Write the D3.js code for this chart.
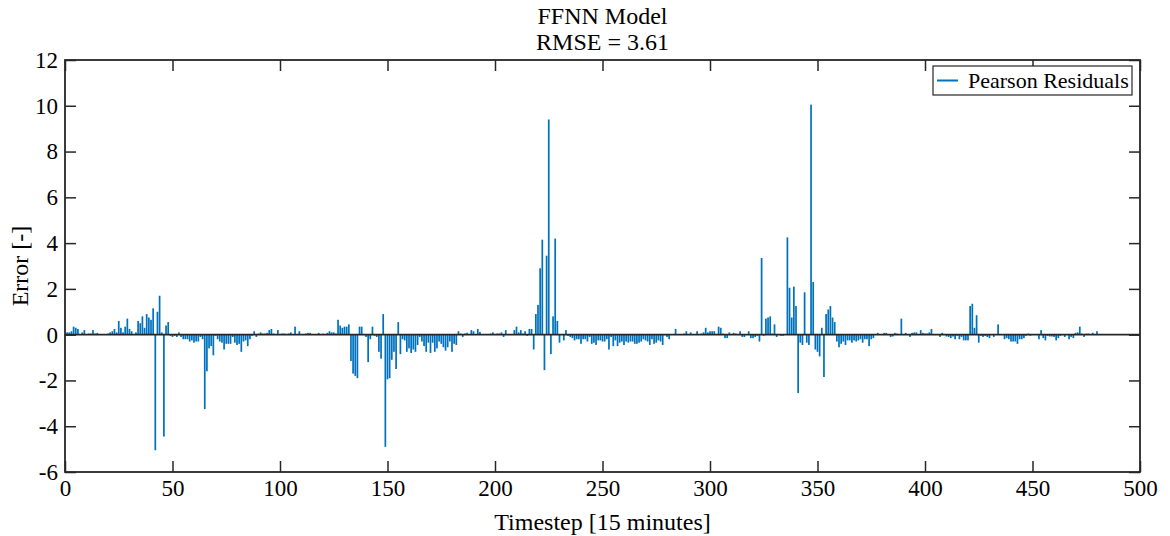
<!DOCTYPE html>
<html>
<head>
<meta charset="utf-8">
<script src="https://cdn.jsdelivr.net/npm/d3@7"></script>
<style>
  html, body { margin: 0; padding: 0; background: #fff; }
  svg { display: block; }
  svg text { font-family: "Liberation Serif", "LiberationSerif", "Times New Roman", Times, "Nimbus Roman", "DejaVu Serif", serif !important; fill: #000; }
</style>
</head>
<body>
<svg id="chart" width="1170" height="536"></svg>
<script>
// ---- Data ----
const titleLines = ["FFNN Model", "RMSE = 3.61"];
const xLabel = "Timestep [15 minutes]";
const yLabel = "Error [-]";
const legendLabel = "Pearson Residuals";
const xTicks = [0, 50, 100, 150, 200, 250, 300, 350, 400, 450, 500];
const yTicks = [-6, -4, -2, 0, 2, 4, 6, 8, 10, 12];

// residuals for timesteps 1..480, split in blocks of 60
const residuals001 = [
  0.1, 0.1, 0.15, 0.35, 0.3, 0.25, 0.02, 0.1, 0.2, 0.03,
  0.05, 0.05, 0.2, 0.05, 0.08, 0.02, 0.03, 0.03, 0.02, 0.05,
  0.1, 0.15, 0.25, 0.1, 0.6, 0.3, 0.1, 0.35, 0.7, 0.25,
  0.15, 0.02, 0.1, 0.6, 0.5, 0.8, 0.3, 0.9, 0.75, 0.65,
  1.15, -5.05, 1.0, 1.7, 0.1, -4.45, 0.4, 0.55, -0.05, -0.1,
  -0.05, -0.1, 0.1, -0.1, -0.2, -0.2, -0.2, -0.3, -0.25, -0.35];
const residuals061 = [
  -0.3, -0.3, -0.1, -0.2, -3.25, -1.6, -0.6, -0.5, -0.9, -0.05,
  -0.2, -0.3, -0.35, -0.65, -0.4, -0.4, -0.4, -0.1, -0.35, -0.45,
  -0.4, -0.75, -0.3, -0.25, -0.5, -0.2, -0.05, 0.15, -0.1, 0.05,
  0.1, 0.05, 0.05, 0.08, 0.2, 0.25, 0.05, 0.02, 0.2, 0.02,
  0.05, 0.05, 0.03, 0.05, 0.1, 0.02, 0.35, 0.02, 0.15, 0.02,
  0.02, 0.05, 0.08, 0.08, 0.02, 0.02, 0.02, 0.08, 0.02, 0.05];
const residuals121 = [
  0.02, 0.08, 0.15, 0.1, 0.1, 0.05, 0.65, 0.4, 0.3, 0.35,
  0.35, 0.45, -1.15, -1.7, -1.8, -1.9, 0.35, 0.35, -0.02, -0.1,
  -1.2, -0.2, 0.35, -0.05, -0.1, -0.75, -1.05, 0.9, -4.9, -1.95,
  -1.9, -1.1, -0.75, -1.5, 0.55, -0.85, -0.2, -0.25, -0.75, -0.6,
  -0.8, -0.65, -0.75, -0.45, -0.1, -0.3, -0.5, -0.75, -0.35, -0.8,
  -0.35, -0.75, -0.6, -0.3, -0.4, -0.55, -0.7, -0.55, -0.3, -0.75];
const residuals181 = [
  -0.4, -0.45, 0.15, 0.05, -0.1, 0.05, 0.08, 0.02, 0.2, 0.15,
  0.02, 0.25, 0.12, 0.02, 0.02, 0.02, 0.02, 0.05, 0.1, 0.02,
  0.05, 0.05, 0.1, -0.1, 0.2, 0.02, 0.02, 0.02, 0.2, 0.35,
  0.1, 0.2, 0.05, 0.15, -0.05, 0.25, 0.25, -0.65, 0.9, 1.3,
  2.9, 4.15, -1.55, 3.45, 9.4, -0.85, 0.8, 4.2, 0.6, -0.35,
  0.02, -0.25, 0.2, -0.05, -0.1, -0.15, -0.25, -0.2, -0.2, -0.4];
const residuals241 = [
  -0.2, -0.2, -0.3, -0.1, -0.4, -0.35, -0.45, -0.25, -0.25, -0.3,
  -0.3, -0.2, -0.65, -0.1, -0.5, -0.25, -0.5, -0.35, -0.3, -0.45,
  -0.3, -0.35, -0.3, -0.3, -0.4, -0.4, -0.35, -0.3, -0.2, -0.25,
  -0.3, -0.45, -0.2, -0.4, -0.35, -0.25, -0.3, -0.45, -0.02, -0.1,
  -0.2, 0.02, 0.02, 0.25, 0.02, 0.02, 0.02, 0.05, 0.15, 0.02,
  0.1, 0.02, 0.02, 0.15, 0.02, 0.05, 0.1, 0.3, 0.1, 0.15];
const residuals301 = [
  0.15, 0.15, 0.02, 0.35, 0.3, 0.05, -0.15, -0.15, 0.1, 0.02,
  0.08, 0.05, 0.02, 0.15, -0.1, -0.1, 0.02, 0.15, -0.15, -0.15,
  -0.1, -0.05, -0.3, 3.35, -0.05, 0.7, 0.75, 0.8, 0.05, 0.45,
  -0.1, 0.02, -0.05, -0.05, 0.02, 4.25, 2.05, 0.75, 2.1, 1.25,
  -2.55, -0.35, -0.45, 1.85, -0.35, -0.45, 10.05, 2.3, -0.65, -0.75,
  -0.95, 0.3, -1.85, 0.9, 1.1, 1.25, 0.75, 0.55, -0.3, -0.55];
const residuals361 = [
  -0.4, -0.3, -0.45, -0.25, -0.25, -0.35, -0.25, -0.3, -0.25, -0.2,
  -0.35, -0.2, -0.2, -0.5, -0.2, -0.15, 0.02, 0.08, 0.02, 0.02,
  0.08, 0.08, 0.02, -0.1, -0.08, 0.08, 0.05, 0.02, 0.7, 0.02,
  0.08, 0.02, -0.1, 0.08, 0.1, 0.1, 0.02, 0.2, 0.08, 0.05,
  0.05, 0.1, 0.25, 0.02, 0.02, 0.02, -0.1, 0.08, 0.02, -0.08,
  -0.1, -0.15, -0.08, -0.2, -0.05, -0.2, -0.1, -0.25, -0.25, -0.25];
const residuals421 = [
  1.25, 1.35, 0.3, 0.85, -0.35, -0.05, -0.1, -0.05, -0.1, -0.15,
  0.02, -0.1, 0.02, 0.45, 0.02, 0.02, -0.2, -0.15, -0.2, -0.3,
  -0.3, -0.3, -0.4, -0.2, -0.2, -0.15, -0.05, 0.05, -0.05, 0.02,
  0.02, 0.02, -0.2, 0.2, -0.15, -0.25, -0.05, -0.08, -0.08, -0.1,
  -0.25, -0.15, -0.05, 0.02, -0.1, 0.02, -0.2, -0.1, -0.15, 0.08,
  0.1, 0.35, 0.05, -0.1, 0.05, 0.05, 0.02, 0.08, 0.02, 0.15];

const residuals = [].concat(residuals001, residuals061, residuals121, residuals181,
                            residuals241, residuals301, residuals361, residuals421);
const data = residuals.map((v, i) => ({ t: i + 1, v }));

// ---- Layout ----
const W = 1170, H = 536;
const m = { left: 65, right: 30, top: 60, bottom: 64 };
const pw = W - m.left - m.right, ph = H - m.top - m.bottom;
const axisColor = "#262626";
const barColor = "#0072BD";
const tickLen = 11;
const fmt = d => String(d);   // plain hyphen-minus like the reference

const svg = d3.select("#chart");
const x = d3.scaleLinear().domain([0, 500]).range([m.left, m.left + pw]);
const y = d3.scaleLinear().domain([-6, 12]).range([m.top + ph, m.top]);

// bars
const bw = 0.8 * (x(1) - x(0));
svg.append("g").selectAll("rect").data(data).join("rect")
  .attr("x", d => x(d.t) - bw / 2)
  .attr("width", bw)
  .attr("y", d => Math.min(y(d.v), y(0)))
  .attr("height", d => Math.abs(y(d.v) - y(0)))
  .attr("fill", barColor);

// baseline at zero
svg.append("line")
  .attr("x1", x(0)).attr("x2", x(500))
  .attr("y1", y(0)).attr("y2", y(0))
  .attr("stroke", axisColor).attr("stroke-width", 1.6);

// axes (ticks inward, box)
function styleAxis(g) {
  g.attr("font-family", null).attr("font-size", null);
  g.select(".domain").remove();
  g.selectAll(".tick line").attr("stroke", axisColor).attr("stroke-width", 1.5);
  g.selectAll(".tick text").attr("font-size", 23);
}
svg.append("g").attr("transform", `translate(0,${m.top + ph})`)
  .call(d3.axisBottom(x).tickValues(xTicks).tickSize(-tickLen).tickFormat(fmt))
  .call(styleAxis)
  .call(g => g.selectAll(".tick text").attr("dy", "0.75em").attr("y", 7));
svg.append("g").attr("transform", `translate(0,${m.top})`)
  .call(d3.axisTop(x).tickValues(xTicks).tickSize(-tickLen).tickFormat(""))
  .call(styleAxis);
svg.append("g").attr("transform", `translate(${m.left},0)`)
  .call(d3.axisLeft(y).tickValues(yTicks).tickSize(-tickLen).tickFormat(fmt))
  .call(styleAxis)
  .call(g => g.selectAll(".tick text").attr("x", -7));
svg.append("g").attr("transform", `translate(${m.left + pw},0)`)
  .call(d3.axisRight(y).tickValues(yTicks).tickSize(-tickLen).tickFormat(""))
  .call(styleAxis);

svg.append("rect")
  .attr("x", m.left).attr("y", m.top).attr("width", pw).attr("height", ph)
  .attr("fill", "none").attr("stroke", axisColor).attr("stroke-width", 1.8);

// titles and labels
svg.append("text").attr("x", x(250)).attr("y", 24).attr("text-anchor", "middle")
  .attr("font-size", 24).text(titleLines[0]);
svg.append("text").attr("x", x(250)).attr("y", 50).attr("text-anchor", "middle")
  .attr("font-size", 24).text(titleLines[1]);
svg.append("text").attr("x", x(250)).attr("y", 530).attr("text-anchor", "middle")
  .attr("font-size", 24).text(xLabel);
svg.append("text")
  .attr("transform", `translate(28,${m.top + ph / 2}) rotate(-90)`)
  .attr("text-anchor", "middle").attr("font-size", 24).text(yLabel);

// legend
const lg = svg.append("g");
lg.append("rect").attr("x", 933).attr("y", 66).attr("width", 199).attr("height", 29)
  .attr("fill", "#fff").attr("stroke", axisColor).attr("stroke-width", 1.2);
lg.append("line").attr("x1", 937).attr("x2", 958).attr("y1", 80.5).attr("y2", 80.5)
  .attr("stroke", barColor).attr("stroke-width", 2);
lg.append("text").attr("x", 968).attr("y", 88).attr("font-size", 22).text(legendLabel);
</script>
</body>
</html>
